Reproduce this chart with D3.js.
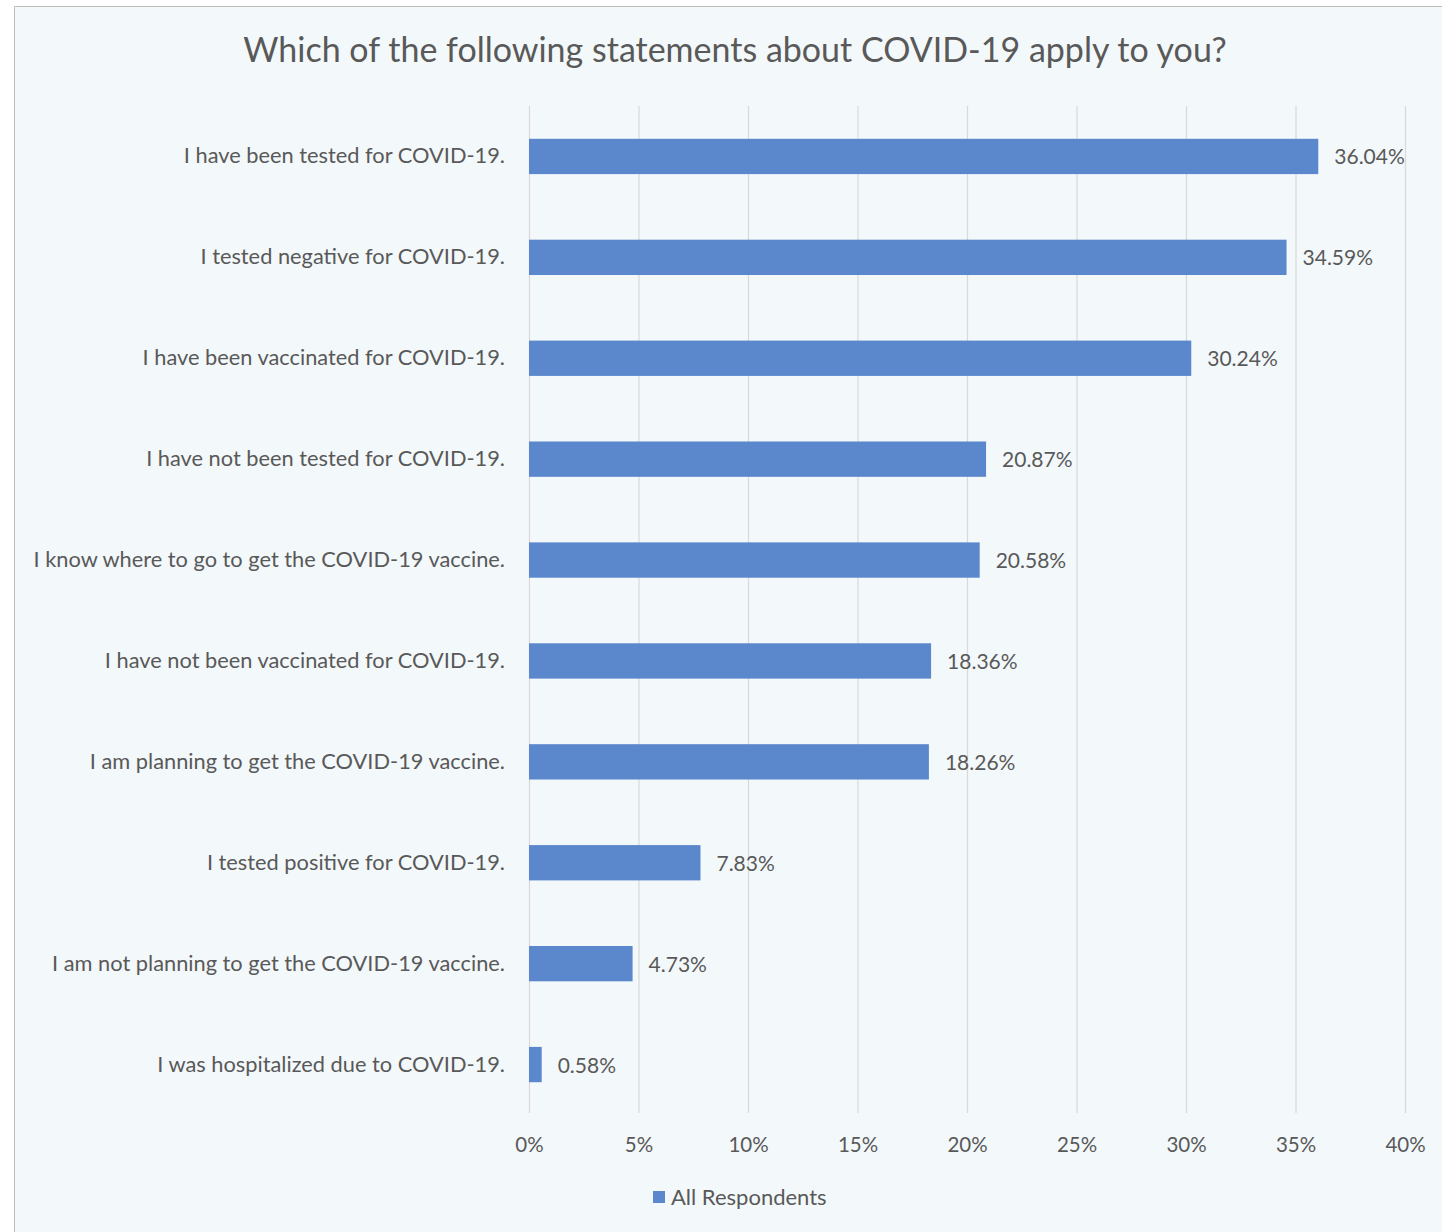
<!DOCTYPE html>
<html>
<head>
<meta charset="utf-8">
<script src="https://cdn.jsdelivr.net/npm/d3@7"></script>
<style>
  html, body { margin: 0; padding: 0; background: #fff; }
  svg { display: block; font-family: Lato, "Open Sans", sans-serif; }
</style>
</head>
<body>
<div class="chart"></div>
<script>
// survey answers, top to bottom
var statements = [
  "I have been tested for COVID-19.",
  "I tested negative for COVID-19.",
  "I have been vaccinated for COVID-19.",
  "I have not been tested for COVID-19.",
  "I know where to go to get the COVID-19 vaccine.",
  "I have not been vaccinated for COVID-19.",
  "I am planning to get the COVID-19 vaccine.",
  "I tested positive for COVID-19.",
  "I am not planning to get the COVID-19 vaccine.",
  "I was hospitalized due to COVID-19."
];
var allRespondents = [36.04, 34.59, 30.24, 20.87, 20.58, 18.36, 18.26, 7.83, 4.73, 0.58];
var xTicks = [0, 5, 10, 15, 20, 25, 30, 35, 40];
var seriesName = "All Respondents";
var title = "Which of the following statements about COVID-19 apply to you?";

var W = 1442, H = 1232;
var margin = { top: 106, right: 37, bottom: 117, left: 529 };
var textColor = "#595959";
var barColor = "#5b87cc";

var svg = d3.select(".chart").append("svg")
  .attr("width", W)
  .attr("height", H);

// chart area with its light background and top/left frame
svg.append("rect")
  .attr("x", 14).attr("y", 6)
  .attr("width", W - 14).attr("height", H - 6)
  .attr("fill", "#f3f8fb");
svg.append("path")
  .attr("d", `M14.5,${H} V6.5 H${W}`)
  .attr("fill", "none")
  .attr("stroke", "#bdbdbd")
  .attr("stroke-width", 1);

var x = d3.scaleLinear()
  .domain([0, 40])
  .range([margin.left, W - margin.right]);

var y = d3.scaleBand()
  .domain(statements)
  .range([margin.top, H - margin.bottom])
  .paddingInner(0.65)
  .paddingOuter(0.325);

// gridlines
svg.append("g")
  .selectAll("line")
  .data(xTicks)
  .enter()
  .append("line")
  .attr("x1", d => x(d) + 0.5)
  .attr("x2", d => x(d) + 0.5)
  .attr("y1", margin.top)
  .attr("y2", H - margin.bottom - 2)
  .attr("stroke", "#d9d9d9")
  .attr("stroke-width", 1.2);

// x axis labels
var xAxis = d3.axisBottom(x)
  .tickValues(xTicks)
  .tickSize(0)
  .tickPadding(0)
  .tickFormat(d => d + "%");
var gx = svg.append("g")
  .attr("transform", `translate(0,${H - margin.bottom + 37})`)
  .call(xAxis);
gx.select(".domain").remove();
gx.selectAll("text")
  .attr("dy", 0)
  .attr("fill", textColor)
  .style("font-size", "20.5px")
  .style("font-family", "Lato, sans-serif");

// category labels
var yAxis = d3.axisLeft(y).tickSize(0).tickPadding(24);
var gy = svg.append("g")
  .attr("transform", `translate(${margin.left},0)`)
  .call(yAxis);
gy.select(".domain").remove();
gy.selectAll("text")
  .attr("fill", textColor)
  .style("font-size", "21.8px")
  .style("font-family", "Lato, sans-serif");

// bars
var rows = statements.map((s, i) => ({ label: s, value: allRespondents[i] }));

svg.append("g")
  .selectAll("rect")
  .data(rows)
  .enter()
  .append("rect")
  .attr("x", x(0))
  .attr("y", d => y(d.label))
  .attr("width", d => x(d.value) - x(0))
  .attr("height", y.bandwidth())
  .attr("fill", barColor);

// value labels
svg.append("g")
  .selectAll("text")
  .data(rows)
  .enter()
  .append("text")
  .attr("x", d => x(d.value) + 16)
  .attr("y", d => y(d.label) + y.bandwidth() / 2)
  .attr("dy", "0.38em")
  .attr("fill", textColor)
  .style("font-size", "21px")
  .text(d => d.value.toFixed(2) + "%");

// title
svg.append("text")
  .attr("x", 735)
  .attr("y", 62)
  .attr("text-anchor", "middle")
  .attr("fill", textColor)
  .style("font-size", "34px")
  .text(title);

// legend
var legend = svg.append("g").attr("transform", "translate(653,1191)");
legend.append("rect")
  .attr("width", 12).attr("height", 12)
  .attr("fill", barColor);
legend.append("text")
  .attr("x", 18)
  .attr("y", 6)
  .attr("dy", "0.38em")
  .attr("fill", textColor)
  .style("font-size", "22px")
  .text(seriesName);
</script>
</body>
</html>
